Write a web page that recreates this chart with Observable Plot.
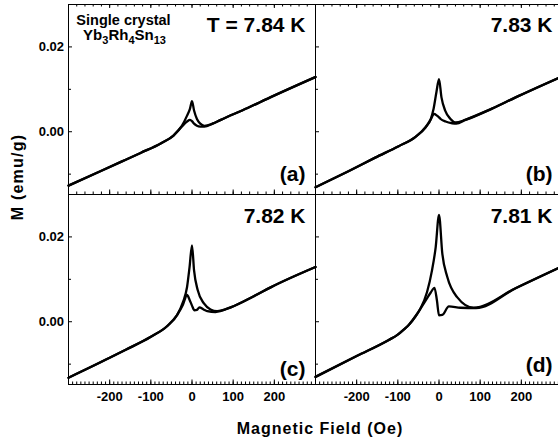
<!DOCTYPE html>
<html><head><meta charset="utf-8">
<script src="https://cdn.jsdelivr.net/npm/d3@7"></script>
<script src="https://cdn.jsdelivr.net/npm/@observablehq/plot@0.6"></script>
<style>
body{margin:0;background:#fff;}
#fig{position:relative;width:558px;height:443px;overflow:hidden;background:#fff;font-family:"Liberation Sans",Arial,sans-serif;}
#fig svg{position:absolute;}
.lbl{position:absolute;font-weight:bold;color:#000;white-space:nowrap;line-height:16px;font-size:16px;}
</style></head><body><div id="fig"></div>
<script>
// ---- data ----
const temps = ["T = 7.84 K", "7.83 K", "7.82 K", "7.81 K"];
const tags = ["(a)", "(b)", "(c)", "(d)"];
const xTickLabels = [-200, -100, 0, 100, 200];
const yTickLabels = [0, 0.02];
const yMinorTicks = [-0.01, 0.01];

const field_a_up = [-300,-220,-170,-125,-75,-45,-25,-12,-5,0,5,12,20,30,50,70,135,190,300];
const m_a_up     = [-0.0127,-0.0092,-0.0070,-0.0050,-0.0027,-0.0009,0.0013,0.0038,0.0054,0.0072,0.0050,0.0030,0.0019,0.0014,0.0019,0.0028,0.0056,0.0081,0.0129];
const field_a_dn = [-300,-220,-170,-125,-75,-45,-25,-12,-5,0,5,12,20,30,50,70,135,190,300];
const m_a_dn     = [-0.0127,-0.0092,-0.0070,-0.0050,-0.0027,-0.0009,0.0012,0.0024,0.0028,0.0025,0.0019,0.0014,0.0012,0.0012,0.0019,0.0028,0.0056,0.0081,0.0129];

const field_b_up = [-300,-220,-155,-98,-57,-33,-20,-13,-6,0,6,15,28,40,64,130,186,300];
const m_b_up     = [-0.0131,-0.0093,-0.0061,-0.0034,-0.0012,0.0010,0.0030,0.0055,0.0095,0.0124,0.0081,0.0050,0.0030,0.0022,0.0028,0.0055,0.0081,0.0131];
const field_b_dn = [-300,-220,-155,-98,-57,-33,-20,-12,-5,0,4,16,32,42,64,130,186,300];
const m_b_dn     = [-0.0131,-0.0093,-0.0061,-0.0034,-0.0012,0.0010,0.0029,0.0042,0.0038,0.0034,0.0030,0.0024,0.0020,0.0019,0.0028,0.0055,0.0081,0.0131];

const field_c_up = [-300,-200,-161,-101,-60,-36,-22,-12,-6,0,5,14,29,45,61,94,150,191,300];
const m_c_up     = [-0.0132,-0.0085,-0.0066,-0.0036,-0.0010,0.0016,0.0046,0.0082,0.0128,0.0180,0.0121,0.0074,0.0043,0.0029,0.0025,0.0034,0.0060,0.0081,0.0129];
const field_c_dn = [-300,-200,-161,-101,-60,-36,-22,-12,-6,0,6,12,18,28,37,57,94,150,191,300];
const m_c_dn     = [-0.0132,-0.0085,-0.0066,-0.0036,-0.0010,0.0016,0.0040,0.0063,0.0052,0.0038,0.0027,0.0028,0.0034,0.0029,0.0025,0.0023,0.0034,0.0060,0.0081,0.0129];

const field_d_up = [-300,-200,-122,-101,-85,-73,-57,-45,-29,-17,-8,0,8,20,44,84,186,300];
const m_d_up     = [-0.0130,-0.0081,-0.0043,-0.0031,-0.0018,-0.0007,0.0013,0.0031,0.0070,0.0121,0.0176,0.0252,0.0161,0.0106,0.0058,0.0033,0.0079,0.0131];
const field_d_dn = [-300,-200,-122,-101,-85,-73,-57,-45,-30,-20,-11,-5,0,8,24,52,90,186,300];
const m_d_dn     = [-0.0130,-0.0081,-0.0043,-0.0031,-0.0018,-0.0007,0.0013,0.0031,0.0054,0.0069,0.0080,0.0050,0.0015,0.0016,0.0036,0.0033,0.0032,0.0079,0.0131];

// ---- layout ----
const W = 247, HH = 190, ml = 70, mr = 12, mt = 12, mb = 40;
const FONT = "'Liberation Sans', Arial, Helvetica, sans-serif";
const minor20 = d3.range(-300, 301, 20);
const minor10 = d3.range(-300, 301, 10);

function series(f, m) { return f.map((h, i) => ({H: h, M: m[i]})); }

function panel(o) {
  const marks = [Plot.frame({stroke: "#000", strokeWidth: 1})];
  if (o.row === 0) {
    marks.push(Plot.tickX(minor20, {x: d => d, insetBottom: HH - 2.5, stroke: "#000"}));
    marks.push(Plot.tickX(xTickLabels, {x: d => d, insetBottom: HH - 4, stroke: "#000"}));
    marks.push(Plot.tickX(minor20, {x: d => d, insetTop: HH - 2.5, stroke: "#000"}));
    marks.push(Plot.tickX(xTickLabels, {x: d => d, insetTop: HH - 4.5, stroke: "#000"}));
  } else {
    marks.push(Plot.tickX(minor10, {x: d => d, insetTop: HH - 2.5, stroke: "#000"}));
    marks.push(Plot.tickX(xTickLabels, {x: d => d, insetTop: HH - 4.5, stroke: "#000"}));
    marks.push(Plot.axisX(xTickLabels, {anchor: "bottom", tickSize: 0, tickPadding: 7, tickFormat: d => String(d), fontSize: 13, fontWeight: "bold", label: null}));
  }
  marks.push(Plot.tickY(yTickLabels, {y: d => d, insetRight: W - 4, stroke: "#000"}));
  marks.push(Plot.tickY(yMinorTicks, {y: d => d, insetRight: W - 3, stroke: "#000"}));
  if (o.col === 0) {
    marks.push(Plot.axisY(yTickLabels, {anchor: "left", tickSize: 0, tickPadding: 4.5, tickFormat: d3.format(".2f"), fontSize: 13, fontWeight: "bold", label: null}));
  }
  marks.push(Plot.line(series(o.f1, o.m1), {x: "H", y: "M", curve: "monotone-x", stroke: "#000", strokeWidth: 2.3}));
  marks.push(Plot.line(series(o.f2, o.m2), {x: "H", y: "M", curve: "monotone-x", stroke: "#000", strokeWidth: 2.3}));
  marks.push(Plot.text([o.temp], {text: d => d, frameAnchor: "top-right", dx: -10, dy: o.tdy, textAnchor: "end", lineAnchor: "bottom", fontSize: 21, fontWeight: "bold", fill: "#000"}));
  marks.push(Plot.text([o.tag], {text: d => d, frameAnchor: "bottom-right", dx: -10, dy: o.gdy, textAnchor: "end", lineAnchor: "bottom", fontSize: 21, fontWeight: "bold", fill: "#000"}));
  if (o.sample) {
    marks.push(Plot.text(["Single crystal"], {text: d => d, frameAnchor: "top-left", dx: 55, dy: 20, textAnchor: "middle", lineAnchor: "bottom", fontSize: 14.5, fontWeight: "bold", fill: "#000"}));
    marks.push(Plot.text(["Yb3Rh4Sn13"], {text: d => d, frameAnchor: "top-left", dx: 56, dy: 35.5, textAnchor: "middle", lineAnchor: "bottom", fontSize: 15, fontWeight: "bold", fill: "#000"}));
  }
  const svg = Plot.plot({
    width: W + ml + mr, height: HH + mt + mb,
    marginLeft: ml, marginRight: mr, marginTop: mt, marginBottom: mb,
    x: {domain: [-300, 300], axis: null},
    y: {domain: [-0.0148, 0.0300], axis: null},
    style: {fontFamily: FONT, background: "transparent", overflow: "visible", maxWidth: "none", color: "#000"},
    marks
  });
  d3.select(svg).selectAll("text").filter(function() { return this.textContent === "Yb3Rh4Sn13"; }).each(function() {
    const t = d3.select(this);
    t.text(null);
    const parts = [["Yb", 0], ["3", 1], ["Rh", 0], ["4", 1], ["Sn", 0], ["13", 1]];
    let prevSub = 0;
    parts.forEach(([s, sub]) => {
      const ts = t.append("tspan").text(s);
      if (sub && !prevSub) ts.attr("dy", 4);
      if (!sub && prevSub) ts.attr("dy", -4);
      if (sub) ts.attr("font-size", 11);
      prevSub = sub;
    });
  });
  svg.style.left = (o.px - ml) + "px";
  svg.style.top = (o.py - mt) + "px";
  return svg;
}

const fig = document.getElementById("fig");
const panels = [
  {row: 0, col: 0, px: 68, py: 4, f1: field_a_up, m1: m_a_up, f2: field_a_dn, m2: m_a_dn, temp: temps[0], tag: tags[0], tdy: 27, gdy: -13.4, sample: true},
  {row: 0, col: 1, px: 315, py: 4, f1: field_b_up, m1: m_b_up, f2: field_b_dn, m2: m_b_dn, temp: temps[1], tag: tags[1], tdy: 27, gdy: -13.4},
  {row: 1, col: 0, px: 68, py: 194, f1: field_c_up, m1: m_c_up, f2: field_c_dn, m2: m_c_dn, temp: temps[2], tag: tags[2], tdy: 28, gdy: -8.4},
  {row: 1, col: 1, px: 315, py: 194, f1: field_d_up, m1: m_d_up, f2: field_d_dn, m2: m_d_dn, temp: temps[3], tag: tags[3], tdy: 28, gdy: -13}
];
panels.forEach(p => fig.appendChild(panel(p)));

const yl = document.createElement("div");
yl.className = "lbl";
yl.textContent = "M (emu/g)";
yl.style.left = "18px"; yl.style.top = "177px";
yl.style.letterSpacing = "1.2px";
yl.style.transform = "translate(-50%,-50%) rotate(-90deg)";
fig.appendChild(yl);

const xl = document.createElement("div");
xl.className = "lbl";
xl.textContent = "Magnetic Field (Oe)";
xl.style.left = "320px"; xl.style.top = "420.5px";
xl.style.letterSpacing = "1px";
xl.style.transform = "translateX(-50%)";
fig.appendChild(xl);
</script></body></html>
